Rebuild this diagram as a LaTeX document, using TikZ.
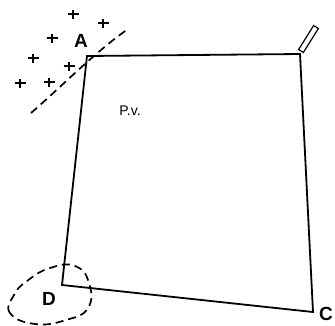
\documentclass[tikz,border=0pt]{standalone}
\usepackage{fontspec}
\setmainfont{Liberation Sans}
\usetikzlibrary{calc}
\begin{document}
\begin{tikzpicture}[x=1pt,y=-1pt,
  edge/.style={line width=1.8pt,line join=miter},
  dashline/.style={line width=1.7pt,dash pattern=on 8pt off 5pt},
  corner/.style={font=\fontsize{19}{19}\selectfont\bfseries,inner sep=1pt},
  plus/.style={line width=1.7pt}]
\useasboundingbox (0,0) rectangle (335,325);
\coordinate (A) at (87,56);
\coordinate (B) at (300,54);
\coordinate (C) at (313,312);
\coordinate (D) at (62,285);
\draw[edge] (A) -- (B) -- (C) -- (D) -- cycle;
\node[corner] (la) at (81,41) {A};
\node[corner] (lc) at (326,314) {C};
\node[corner] (ld) at (49,299) {D};
\node[font=\fontsize{14}{14}\selectfont] (pv) at (130,111) {P.v.};
% handle
\coordinate (h1) at (301,51);
\coordinate (h2) at (316,27);
\draw[line width=1.2pt] ($(h1)!2.8pt!90:(h2)$) -- ($(h2)!2.8pt!-90:(h1)$) -- ($(h2)!2.8pt!90:(h1)$) -- ($(h1)!2.8pt!-90:(h2)$) -- cycle;
% dashed boundary
\coordinate (d1) at (31,113);
\coordinate (d2) at (128,29);
\draw[dashline] (d1) .. controls (60,88) and (95,52) .. (d2);
% dashed loop around D
\draw[dashline] plot[smooth cycle,tension=0.8] coordinates {(35,324) (10,313) (14,295) (27,281) (50,268) (75,266) (89,283) (88,308) (66,320)};
% plus signs
\foreach \n/\px/\py in {p1/73/14,p2/103/23,p3/52/38,p4/33/58,p5/69/66,p6/20/83,p7/49/82}{
  \coordinate (\n) at (\px,\py);
  \draw[plus] ($(\n)+(-5.5,0)$) -- ($(\n)+(5.5,0)$) ($(\n)+(0,-4.5)$) -- ($(\n)+(0,4.5)$);
}
\end{tikzpicture}
\end{document}
